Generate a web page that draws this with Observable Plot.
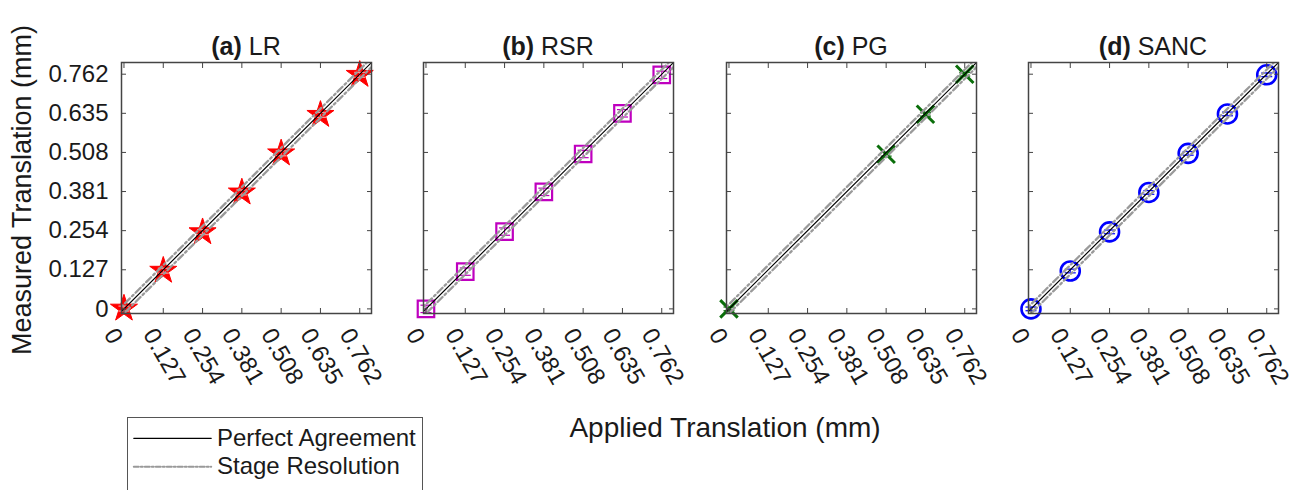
<!DOCTYPE html>
<html>
<head>
<meta charset="utf-8">
<script src="https://cdn.jsdelivr.net/npm/d3@7"></script>
<script src="https://cdn.jsdelivr.net/npm/@observablehq/plot@0.6"></script>
<style>
  html, body { margin: 0; padding: 0; background: #fff; }
  #wrap { position: relative; width: 1296px; height: 490px; overflow: hidden; font-family: "Liberation Sans", Arial, sans-serif; color: #1a1a1a; }
  #wrap svg { position: absolute; top: 0; overflow: visible; background: transparent; }
  .title { position: absolute; top: 31px; width: 250px; text-align: center; font-size: 25px; line-height: 30px; }
  .ylab { position: absolute; left: 22px; top: 190px; transform: translate(-50%, -50%) rotate(-90deg); font-size: 27px; white-space: nowrap; }
  .xlab { position: absolute; left: 725px; top: 428px; transform: translate(-50%, -50%); font-size: 28px; white-space: nowrap; }
  #legend { position: absolute; left: 127px; top: 417px; width: 294px; height: 80px; border: 1.5px solid #555; background: #fff; }
  .lg { position: absolute; left: 89px; font-size: 24px; line-height: 28px; white-space: nowrap; }
</style>
</head>
<body>
<div id="wrap"></div>
<script>
// ---- data ----
const panelLetters = ["(a)", "(b)", "(c)", "(d)"];
const panelNames = ["LR", "RSR", "PG", "SANC"];
const tickValues = [0, 0.127, 0.254, 0.381, 0.508, 0.635, 0.762];
const tickLabels = ["0", "0.127", "0.254", "0.381", "0.508", "0.635", "0.762"];

const lrApplied = [0, 0.127, 0.254, 0.381, 0.508, 0.635, 0.762];
const lrMeasured = [0.001, 0.124, 0.249, 0.378, 0.505, 0.630, 0.760];
const lrError = [0.008, 0.008, 0.008, 0.008, 0.008, 0.008, 0.008];

const rsrApplied = [0, 0.127, 0.254, 0.381, 0.508, 0.635, 0.762];
const rsrMeasured = [0.000, 0.121, 0.251, 0.380, 0.503, 0.635, 0.760];
const rsrError = [0.012, 0.012, 0.012, 0.012, 0.012, 0.012, 0.012];

const pgApplied = [0, 0.508, 0.635, 0.762];
const pgMeasured = [0.000, 0.502, 0.632, 0.762];
const pgError = [0.006, 0.006, 0.006, 0.006];

const sancApplied = [0, 0.127, 0.254, 0.381, 0.508, 0.635, 0.762];
const sancMeasured = [0.000, 0.123, 0.250, 0.378, 0.505, 0.633, 0.760];
const sancError = [0.006, 0.006, 0.006, 0.006, 0.006, 0.006, 0.006];

const stageResolution = 0.015;
const lineExtent = [-0.1, 0.9];

const xLabel = "Applied Translation (mm)";
const yLabel = "Measured Translation (mm)";
const legendLabels = ["Perfect Agreement", "Stage Resolution"];

// ---- styling / layout ----
const series = [
  {x: lrApplied, y: lrMeasured, e: lrError, color: "#ff0000", symbol: "star", r: 8.5, fill: "#ff0000", sw: 1, cap: "#ff9a9a"},
  {x: rsrApplied, y: rsrMeasured, e: rsrError, color: "#bf00bf", symbol: "square", r: 9.3, fill: "none", sw: 2.2, cap: "#bf00bf"},
  {x: pgApplied, y: pgMeasured, e: pgError, color: "#0a6e0a", symbol: "times", r: 8, fill: "none", sw: 3, cap: "#0a6e0a"},
  {x: sancApplied, y: sancMeasured, e: sancError, color: "#0000ff", symbol: "circle", r: 9.5, fill: "none", sw: 2.6, cap: "#0000ff"}
];
const panelLeft = [121, 423, 726, 1028];
const PW = 250, PH = 251, MT = 62, MB = 110;

const minus = {
  draw(context, size) {
    const h = Math.sqrt(size / Math.PI);
    context.moveTo(-h, 0);
    context.lineTo(h, 0);
  }
};

const wrap = document.getElementById("wrap");

series.forEach((s, i) => {
  const rows = s.x.map((x, j) => ({x, y: s.y[j], lo: s.y[j] - s.e[j], hi: s.y[j] + s.e[j]}));
  const diag = lineExtent.map(v => ({x: v, y: v}));
  const up = lineExtent.map(v => ({x: v, y: v + stageResolution}));
  const dn = lineExtent.map(v => ({x: v, y: v - stageResolution}));
  const ml = i === 0 ? 121 : 20, mr = 20;
  const first = i === 0;
  const chart = Plot.plot({
    width: PW + ml + mr,
    height: MT + PH + MB,
    marginTop: MT, marginBottom: MB, marginLeft: ml, marginRight: mr,
    style: {fontFamily: "'Liberation Sans', Arial, sans-serif", fontSize: "24px", color: "#1a1a1a", background: "transparent", overflow: "visible"},
    x: {domain: [-0.008, 0.8]},
    y: {domain: [-0.015, 0.8]},
    marks: [
      Plot.dot(rows, {x: "x", y: "y", symbol: () => s.symbol, r: s.r, fill: s.fill, stroke: s.color, strokeWidth: s.sw}),
      Plot.ruleX(rows, {x: "x", y1: "lo", y2: "hi", stroke: s.cap, strokeWidth: 1}),
      Plot.dot(rows, {x: "x", y: "lo", symbol: minus, r: 5.5, stroke: s.cap, strokeWidth: 1.2}),
      Plot.dot(rows, {x: "x", y: "hi", symbol: minus, r: 5.5, stroke: s.cap, strokeWidth: 1.2}),
      Plot.line(up, {x: "x", y: "y", stroke: "#9a9a9a", strokeWidth: 2.3, strokeDasharray: "7,3,2,3", clip: true}),
      Plot.line(dn, {x: "x", y: "y", stroke: "#9a9a9a", strokeWidth: 2.3, strokeDasharray: "7,3,2,3", clip: true}),
      Plot.line(diag, {x: "x", y: "y", stroke: "#000", strokeWidth: 1.2, clip: true}),
      // inward ticks on all four sides
      Plot.axisX({ticks: tickValues, anchor: "bottom", tickSize: -5, tickFormat: () => "", label: null, stroke: "#444"}),
      Plot.axisX({ticks: tickValues, anchor: "top", tickSize: -5, tickFormat: () => "", label: null, stroke: "#444"}),
      Plot.axisY({ticks: tickValues, anchor: "left", tickSize: -5, tickFormat: () => "", label: null, stroke: "#444"}),
      Plot.axisY({ticks: tickValues, anchor: "right", tickSize: -5, tickFormat: () => "", label: null, stroke: "#444"}),
      // tick labels
      Plot.axisX({ticks: tickValues, anchor: "bottom", tickSize: 0, tickPadding: 17, tickRotate: 60, dx: -14,
        tickFormat: d => tickLabels[tickValues.indexOf(d)], textAnchor: "start", lineAnchor: "middle", label: null, fill: "#1a1a1a"}),
      ...(first ? [Plot.axisY({ticks: tickValues, anchor: "left", tickSize: 0, tickPadding: 13,
        tickFormat: d => tickLabels[tickValues.indexOf(d)], label: null, fill: "#1a1a1a"})] : []),
      Plot.frame({stroke: "#444", strokeWidth: 1.5})
    ]
  });
  chart.style.left = (panelLeft[i] - ml) + "px";
  wrap.appendChild(chart);

  const t = document.createElement("div");
  t.className = "title";
  t.style.left = panelLeft[i] + "px";
  t.innerHTML = `<b>${panelLetters[i]}</b> ${panelNames[i]}`;
  wrap.appendChild(t);
});

const yl = document.createElement("div");
yl.className = "ylab"; yl.textContent = yLabel; wrap.appendChild(yl);
const xl = document.createElement("div");
xl.className = "xlab"; xl.textContent = xLabel; wrap.appendChild(xl);

// legend
const lg = document.createElement("div");
lg.id = "legend";
wrap.appendChild(lg);
const legendSvg = Plot.plot({
  width: 88, height: 66, margin: 0,
  x: {domain: [0, 1], axis: null}, y: {domain: [0, 1], axis: null},
  style: {background: "transparent", position: "absolute", left: "0px", top: "0px"},
  marks: [
    Plot.line([{x: 0.06, y: 0.7}, {x: 0.94, y: 0.7}], {x: "x", y: "y", stroke: "#000", strokeWidth: 1.2}),
    Plot.line([{x: 0.06, y: 0.27}, {x: 0.94, y: 0.27}], {x: "x", y: "y", stroke: "#999", strokeWidth: 2, strokeDasharray: "5,2,2,2"})
  ]
});
lg.appendChild(legendSvg);
legendLabels.forEach((txt, k) => {
  const d = document.createElement("div");
  d.className = "lg";
  d.style.top = (k === 0 ? 6 : 34) + "px";
  d.textContent = txt;
  lg.appendChild(d);
});
</script>
</body>
</html>
